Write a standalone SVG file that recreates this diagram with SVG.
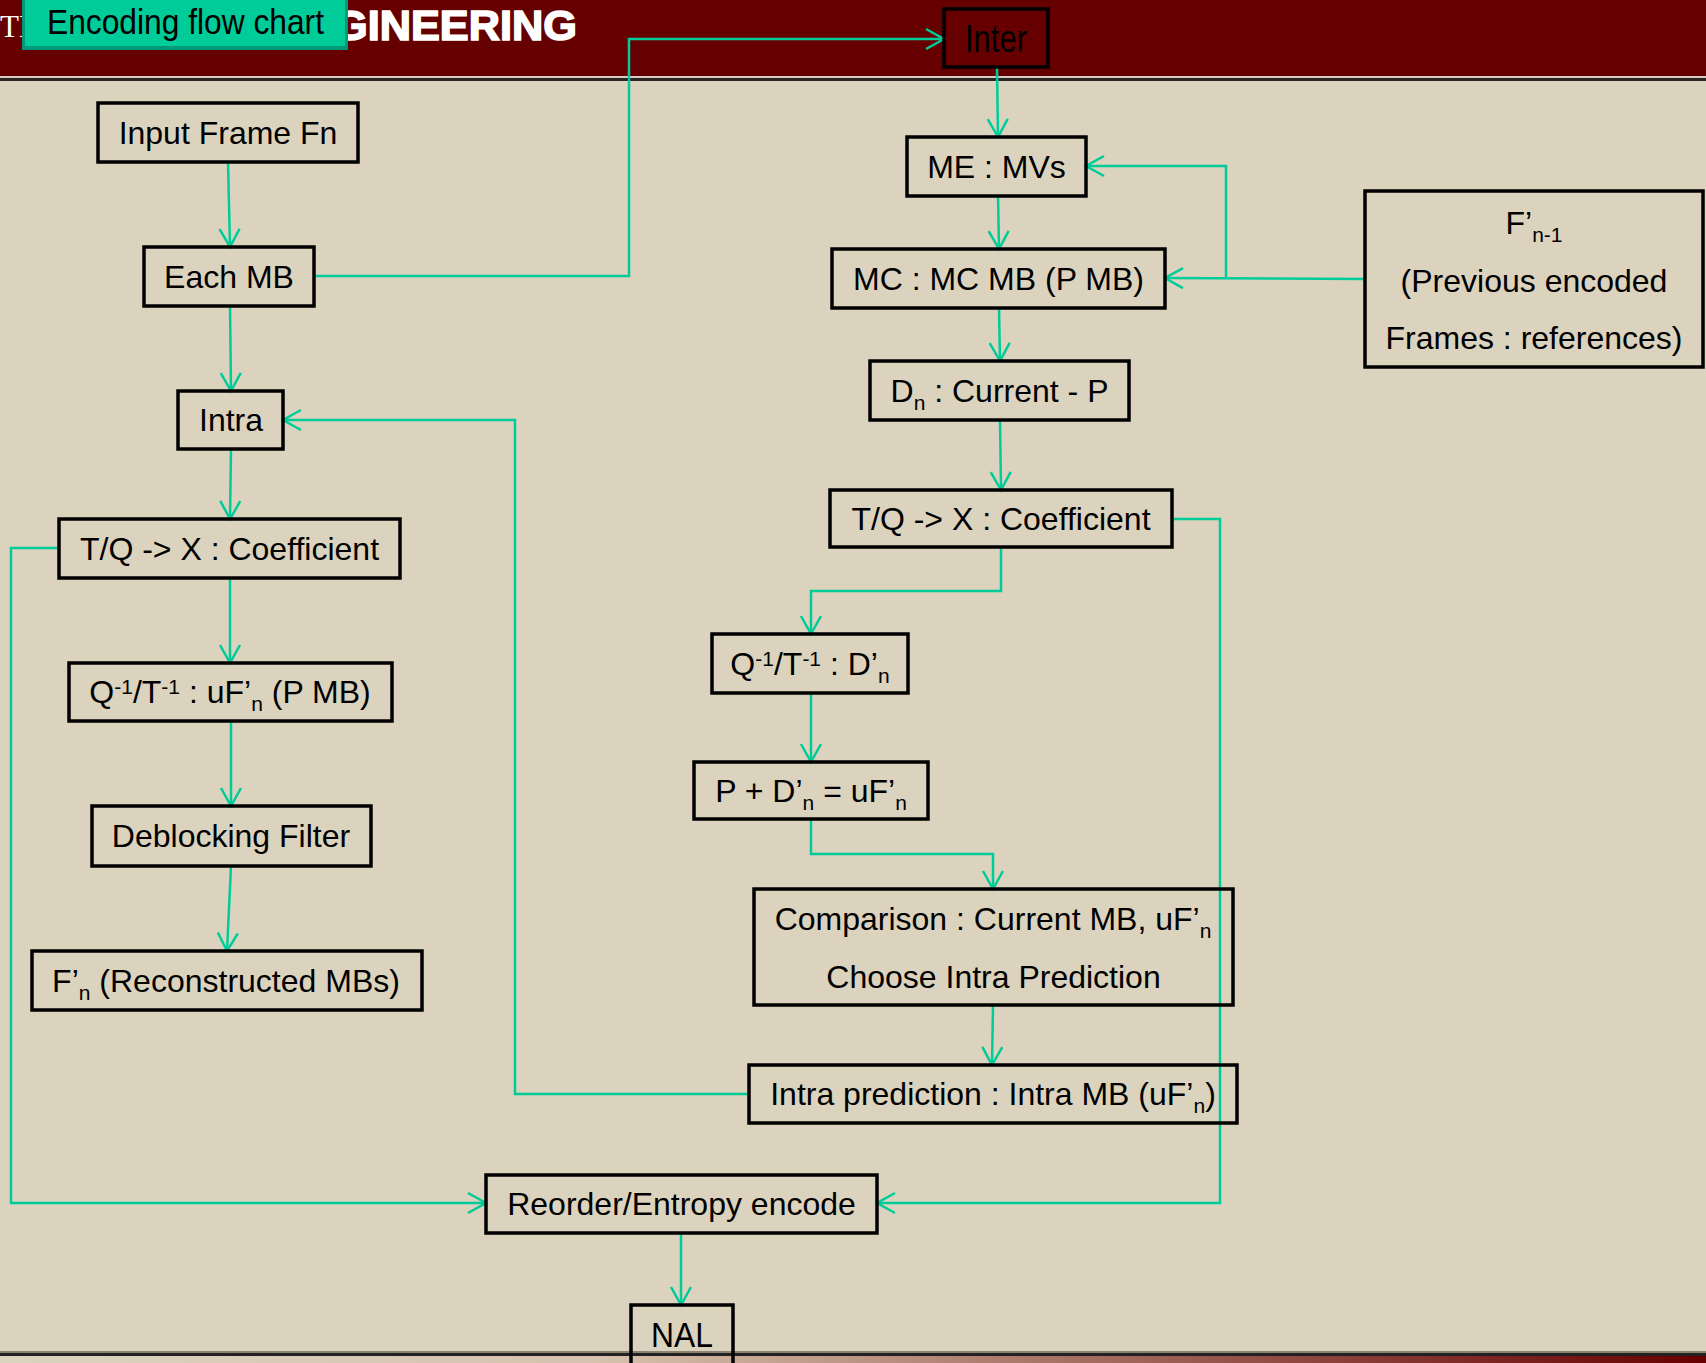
<svg xmlns="http://www.w3.org/2000/svg" width="1706" height="1363" viewBox="0 0 1706 1363">
  <style>
    .box { fill: none; stroke: #000; stroke-width: 3.5; }
    .t { font-family: "Liberation Sans", Arial, sans-serif; font-size: 32px; fill: #000; text-anchor: middle; }
    .s { font-size: 21px; }
    .wire { fill: none; stroke: #00CC99; stroke-width: 2.5; marker-end: url(#arrow); }
  </style>
  <defs>
    <marker id="arrow" markerUnits="userSpaceOnUse" markerWidth="26" markerHeight="26" viewBox="-22 -13 26 26" refX="0" refY="0" orient="auto" overflow="visible">
      <path d="M-18,-10 L0,0 L-18,10" fill="none" stroke="#00CC99" stroke-width="2.5"/>
    </marker>
    <linearGradient id="footer" x1="0" y1="0" x2="1" y2="0">
      <stop offset="0" stop-color="#DBD3BE"/>
      <stop offset="0.35" stop-color="#D6C2AE"/>
      <stop offset="1" stop-color="#660000"/>
    </linearGradient>
  </defs>

  <!-- page background, header band and footer rules -->
  <rect x="0" y="0" width="1706" height="1363" fill="#DBD3BE"/>
  <rect x="0" y="0" width="1706" height="76" fill="#660000"/>
  <rect x="0" y="76" width="1706" height="2" fill="#D9CCC6"/>
  <rect x="0" y="78" width="1706" height="3" fill="#2B2622"/>
  <rect x="0" y="1351" width="1706" height="2" fill="#8C8274"/>
  <rect x="0" y="1353" width="1706" height="3" fill="#222"/>
  <rect x="0" y="1356" width="1706" height="7" fill="url(#footer)"/>

  <!-- header lettering -->
  <text x="0" y="37" font-family="'Liberation Serif', serif" font-size="31" fill="#FFFFFF">TH</text>
  <text x="334" y="40" font-family="'Liberation Sans', Arial, sans-serif" font-size="43" font-weight="bold" fill="#FFFFFF" stroke="#FFFFFF" stroke-width="1.6" textLength="243" lengthAdjust="spacingAndGlyphs">GINEERING</text>

  <!-- title tab -->
  <g id="title">
    <rect x="22" y="-4" width="326" height="54" fill="#00997A"/>
    <rect x="25" y="-4" width="320" height="50" fill="#00CC99"/>
    <text x="47" y="34" font-family="'Liberation Sans', Arial, sans-serif" font-size="35" fill="#000" textLength="277" lengthAdjust="spacingAndGlyphs">Encoding flow chart</text>
  </g>

  <!-- connectors -->
  <g id="connectors">
    <path class="wire" d="M228,162 L230,247"/>
    <path class="wire" d="M230,306 L231,391"/>
    <path class="wire" d="M231,449 L230,519"/>
    <path class="wire" d="M230,578 L230,663"/>
    <path class="wire" d="M231,721 L231,806"/>
    <path class="wire" d="M231,866 L227,951"/>
    <path class="wire" d="M314,276 L629,276 L629,39 L944,39"/>
    <path class="wire" d="M997,67 L998,137"/>
    <path class="wire" d="M998,196 L999,249"/>
    <path class="wire" d="M1365,279 L1165,278"/>
    <path class="wire" d="M1226,278 L1226,166 L1086,166"/>
    <path class="wire" d="M999,308 L1000,361"/>
    <path class="wire" d="M1000,420 L1001,490"/>
    <path class="wire" d="M1001,547 L1001,591 L811,591 L811,634"/>
    <path class="wire" d="M811,693 L811,762"/>
    <path class="wire" d="M811,819 L811,854 L993,854 L993,889"/>
    <path class="wire" d="M993,1005 L992,1065"/>
    <path class="wire" d="M749,1094 L515,1094 L515,420 L283,420"/>
    <path class="wire" d="M1172,519 L1220,519 L1220,1203 L877,1203"/>
    <path class="wire" d="M59,548 L11,548 L11,1203 L486,1203"/>
    <path class="wire" d="M681,1233 L681,1305"/>
  </g>

  <!-- left column -->
  <g id="input-frame">
    <rect class="box" x="98" y="103" width="260" height="59"/>
    <text class="t" x="228" y="144">Input Frame Fn</text>
  </g>
  <g id="each-mb">
    <rect class="box" x="144" y="247" width="170" height="59"/>
    <text class="t" x="229" y="288">Each MB</text>
  </g>
  <g id="intra">
    <rect class="box" x="178" y="391" width="105" height="58"/>
    <text class="t" x="231" y="431">Intra</text>
  </g>
  <g id="tq-intra">
    <rect class="box" x="59" y="519" width="341" height="59"/>
    <text class="t" x="229.5" y="560">T/Q -&gt; X : Coefficient</text>
  </g>
  <g id="iq-intra">
    <rect class="box" x="69" y="663" width="323" height="58"/>
    <text class="t" x="230" y="703">Q<tspan class="s" dy="-9">-1</tspan><tspan dy="9">/T</tspan><tspan class="s" dy="-9">-1</tspan><tspan dy="9"> : uF’</tspan><tspan class="s" dy="8">n</tspan><tspan dy="-8"> (P MB)</tspan></text>
  </g>
  <g id="deblocking">
    <rect class="box" x="92" y="806" width="279" height="60"/>
    <text class="t" x="231" y="847">Deblocking Filter</text>
  </g>
  <g id="reconstructed">
    <rect class="box" x="32" y="951" width="390" height="59"/>
    <text class="t" x="226" y="992">F’<tspan class="s" dy="8">n</tspan><tspan dy="-8"> (Reconstructed MBs)</tspan></text>
  </g>

  <!-- inter path -->
  <g id="inter">
    <rect class="box" x="944" y="9" width="104" height="58"/>
    <text x="996" y="52" font-family="'Liberation Sans', Arial, sans-serif" font-size="39" fill="#000" text-anchor="middle" textLength="62" lengthAdjust="spacingAndGlyphs">Inter</text>
  </g>
  <g id="me">
    <rect class="box" x="907" y="137" width="179" height="59"/>
    <text class="t" x="996.5" y="178">ME : MVs</text>
  </g>
  <g id="mc">
    <rect class="box" x="832" y="249" width="333" height="59"/>
    <text class="t" x="998.5" y="290">MC : MC MB (P MB)</text>
  </g>
  <g id="residual">
    <rect class="box" x="870" y="361" width="259" height="59"/>
    <text class="t" x="999.5" y="402">D<tspan class="s" dy="8">n</tspan><tspan dy="-8"> : Current - P</tspan></text>
  </g>
  <g id="tq-inter">
    <rect class="box" x="830" y="490" width="342" height="57"/>
    <text class="t" x="1001" y="530">T/Q -&gt; X : Coefficient</text>
  </g>
  <g id="iq-inter">
    <rect class="box" x="712" y="634" width="196" height="59"/>
    <text class="t" x="810" y="675">Q<tspan class="s" dy="-9">-1</tspan><tspan dy="9">/T</tspan><tspan class="s" dy="-9">-1</tspan><tspan dy="9"> : D’</tspan><tspan class="s" dy="8">n</tspan></text>
  </g>
  <g id="reconstruct-inter">
    <rect class="box" x="694" y="762" width="234" height="57"/>
    <text class="t" x="811" y="802">P + D’<tspan class="s" dy="8">n</tspan><tspan dy="-8"> = uF’</tspan><tspan class="s" dy="8">n</tspan></text>
  </g>
  <g id="comparison">
    <rect class="box" x="754" y="889" width="479" height="116"/>
    <text class="t" x="993" y="930">Comparison : Current MB, uF’<tspan class="s" dy="8">n</tspan></text>
    <text class="t" x="993.5" y="988">Choose Intra Prediction</text>
  </g>
  <g id="intra-prediction">
    <rect class="box" x="749" y="1065" width="488" height="58"/>
    <text class="t" x="993" y="1105">Intra prediction : Intra MB (uF’<tspan class="s" dy="8">n</tspan><tspan dy="-8">)</tspan></text>
  </g>
  <g id="reference-frames">
    <rect class="box" x="1365" y="191" width="338" height="176"/>
    <text class="t" x="1534" y="234">F’<tspan class="s" dy="8">n-1</tspan></text>
    <text class="t" x="1534" y="292">(Previous encoded</text>
    <text class="t" x="1534" y="349">Frames : references)</text>
  </g>

  <!-- output -->
  <g id="entropy">
    <rect class="box" x="486" y="1175" width="391" height="58"/>
    <text class="t" x="681.5" y="1215">Reorder/Entropy encode</text>
  </g>
  <g id="nal">
    <rect class="box" x="631" y="1305" width="102" height="62"/>
    <text x="682" y="1347" font-family="'Liberation Sans', Arial, sans-serif" font-size="35" fill="#000" text-anchor="middle" textLength="62" lengthAdjust="spacingAndGlyphs">NAL</text>
  </g>
</svg>
